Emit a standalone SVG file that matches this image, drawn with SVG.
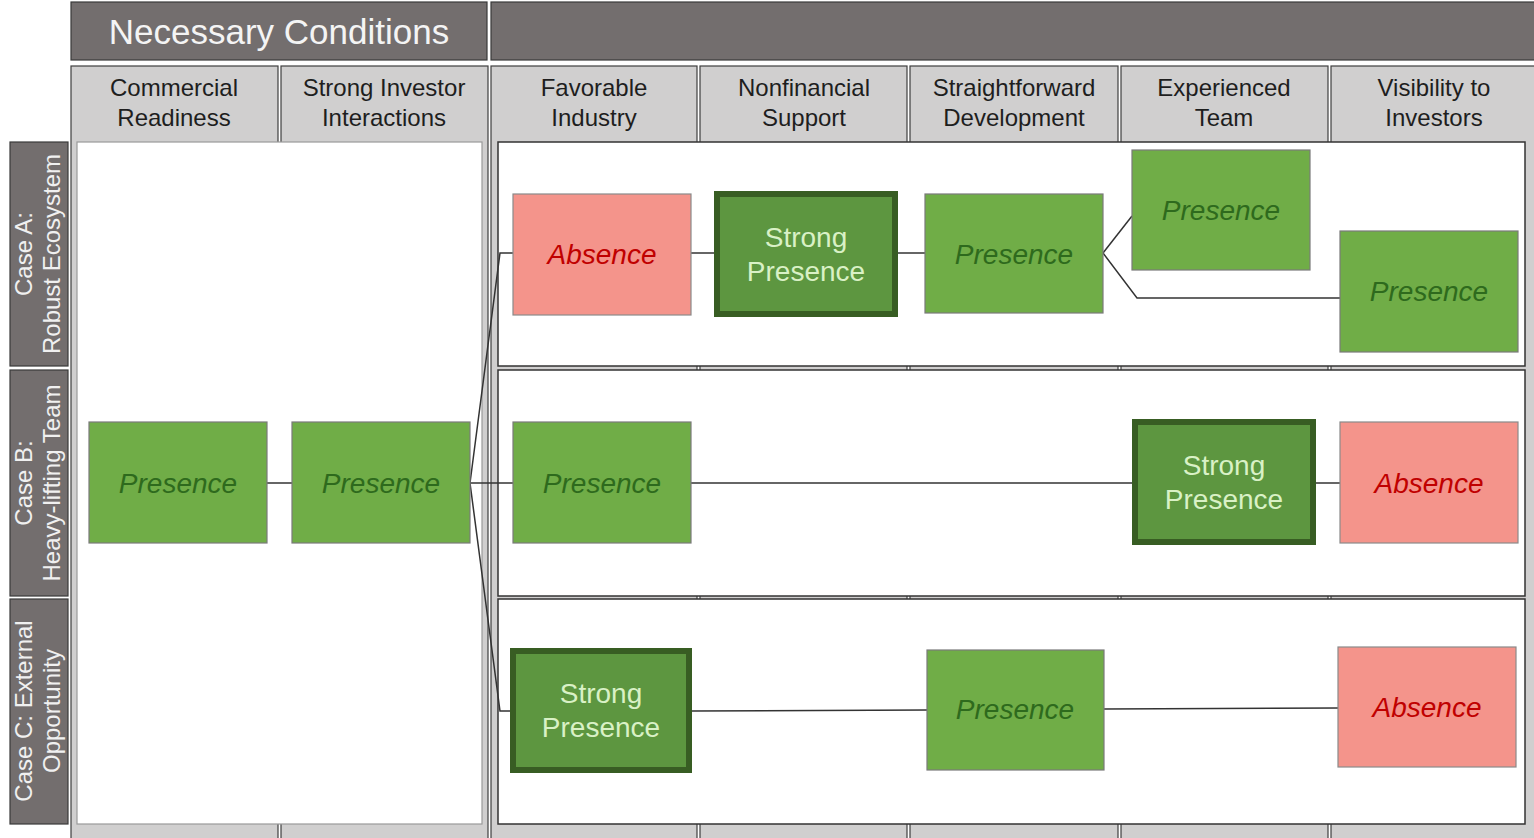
<svg xmlns="http://www.w3.org/2000/svg" width="1534" height="838" viewBox="0 0 1534 838">
<style>
text{font-family:"Liberation Sans",Arial,sans-serif}
.band{fill:#736e6e;stroke:#3a3a3a;stroke-width:1.2}
.col{fill:#d0cfcf;stroke:#3f3f3f;stroke-width:1.2}
.hdr{font-size:24px;fill:#1e1e1e;text-anchor:middle}
.case{font-size:24px;fill:#f0f0f0;text-anchor:middle}
.pres{fill:#70ad47;stroke:#7a7a7a;stroke-width:1.2}
.abs{fill:#f4948b;stroke:#8a8a8a;stroke-width:1.2}
.strong{fill:#5d9640;stroke:#385d23;stroke-width:6}
.tp{font-size:28px;font-style:italic;fill:#2e6a1d;text-anchor:middle}
.ta{font-size:28px;font-style:italic;fill:#c00000;text-anchor:middle}
.ts{font-size:28px;fill:#d9f1c6;text-anchor:middle}
.conn line,.conn polyline{stroke:#333;stroke-width:1.5;fill:none}
</style>
<rect width="1534" height="838" fill="#ffffff"/>
<g id="title">
<rect class="band" x="71" y="2" width="416" height="58"/>
<text x="279" y="44" font-size="35" fill="#f4f4f4" text-anchor="middle">Necessary Conditions</text>
<rect class="band" x="491" y="2" width="1046" height="58"/>
</g>
<g id="columns">
<rect class="col" x="71" y="66" width="207" height="780"/>
<rect class="col" x="281" y="66" width="207" height="780"/>
<rect class="col" x="491" y="66" width="206" height="780"/>
<rect class="col" x="700" y="66" width="207" height="780"/>
<rect class="col" x="910" y="66" width="208" height="780"/>
<rect class="col" x="1121" y="66" width="207" height="780"/>
<rect class="col" x="1331" y="66" width="206" height="780"/>
<text class="hdr" x="174" y="96">Commercial</text><text class="hdr" x="174" y="126">Readiness</text>
<text class="hdr" x="384" y="96">Strong Investor</text><text class="hdr" x="384" y="126">Interactions</text>
<text class="hdr" x="594" y="96">Favorable</text><text class="hdr" x="594" y="126">Industry</text>
<text class="hdr" x="804" y="96">Nonfinancial</text><text class="hdr" x="804" y="126">Support</text>
<text class="hdr" x="1014" y="96">Straightforward</text><text class="hdr" x="1014" y="126">Development</text>
<text class="hdr" x="1224" y="96">Experienced</text><text class="hdr" x="1224" y="126">Team</text>
<text class="hdr" x="1434" y="96">Visibility to</text><text class="hdr" x="1434" y="126">Investors</text>
</g>
<g id="panels">
<rect x="77" y="142" width="405" height="682" fill="#ffffff" stroke="#9a9a9a" stroke-width="1.2"/>
<rect x="498" y="142" width="1027" height="224" fill="#ffffff" stroke="#333" stroke-width="1.5"/>
<rect x="498" y="370" width="1027" height="226" fill="#ffffff" stroke="#333" stroke-width="1.5"/>
<rect x="498" y="599" width="1027" height="225" fill="#ffffff" stroke="#333" stroke-width="1.5"/>
</g>
<g id="caseA">
<rect class="band" x="10" y="142" width="58" height="224"/>
<text class="case" transform="translate(32,254) rotate(-90)">Case A:</text>
<text class="case" transform="translate(60,254) rotate(-90)">Robust Ecosystem</text>
</g>
<g id="caseB">
<rect class="band" x="10" y="370" width="58" height="226"/>
<text class="case" transform="translate(32,483) rotate(-90)">Case B:</text>
<text class="case" transform="translate(60,483) rotate(-90)">Heavy-lifting Team</text>
</g>
<g id="caseC">
<rect class="band" x="10" y="599" width="58" height="225"/>
<text class="case" transform="translate(32,711) rotate(-90)">Case C: External</text>
<text class="case" transform="translate(60,711) rotate(-90)">Opportunity</text>
</g>
<g id="connectors" class="conn">
<line x1="267" y1="483" x2="292" y2="483"/>
<polyline points="470,483 500,253 513,253"/>
<line x1="470" y1="483" x2="513" y2="483"/>
<polyline points="470,483 500,711 510,711"/>
<line x1="691" y1="253" x2="714" y2="253"/>
<line x1="898" y1="253" x2="925" y2="253"/>
<line x1="1103" y1="253" x2="1132" y2="216"/>
<polyline points="1103,253 1137,298 1340,298"/>
<line x1="691" y1="483" x2="1132" y2="483"/>
<line x1="1316" y1="483" x2="1340" y2="483"/>
<line x1="692" y1="711" x2="927" y2="710"/>
<line x1="1104" y1="709" x2="1338" y2="708"/>
</g>
<g id="a-favorable"><rect class="abs" x="513" y="194" width="178" height="121"/><text class="ta" x="602" y="264">Absence</text></g>
<g id="a-nonfinancial"><rect class="strong" x="717" y="194" width="178" height="120"/><text class="ts" x="806" y="247">Strong</text><text class="ts" x="806" y="281">Presence</text></g>
<g id="a-straightforward"><rect class="pres" x="925" y="194" width="178" height="119"/><text class="tp" x="1014" y="264">Presence</text></g>
<g id="a-experienced"><rect class="pres" x="1132" y="150" width="178" height="120"/><text class="tp" x="1221" y="220">Presence</text></g>
<g id="a-visibility"><rect class="pres" x="1340" y="231" width="178" height="121"/><text class="tp" x="1429" y="301">Presence</text></g>
<g id="b-commercial"><rect class="pres" x="89" y="422" width="178" height="121"/><text class="tp" x="178" y="493">Presence</text></g>
<g id="b-investor"><rect class="pres" x="292" y="422" width="178" height="121"/><text class="tp" x="381" y="493">Presence</text></g>
<g id="b-favorable"><rect class="pres" x="513" y="422" width="178" height="121"/><text class="tp" x="602" y="493">Presence</text></g>
<g id="b-experienced"><rect class="strong" x="1135" y="422" width="178" height="120"/><text class="ts" x="1224" y="475">Strong</text><text class="ts" x="1224" y="509">Presence</text></g>
<g id="b-visibility"><rect class="abs" x="1340" y="422" width="178" height="121"/><text class="ta" x="1429" y="493">Absence</text></g>
<g id="c-favorable"><rect class="strong" x="513" y="651" width="176" height="119"/><text class="ts" x="601" y="703">Strong</text><text class="ts" x="601" y="737">Presence</text></g>
<g id="c-straightforward"><rect class="pres" x="927" y="650" width="177" height="120"/><text class="tp" x="1015" y="719">Presence</text></g>
<g id="c-visibility"><rect class="abs" x="1338" y="647" width="178" height="120"/><text class="ta" x="1427" y="717">Absence</text></g>
</svg>
